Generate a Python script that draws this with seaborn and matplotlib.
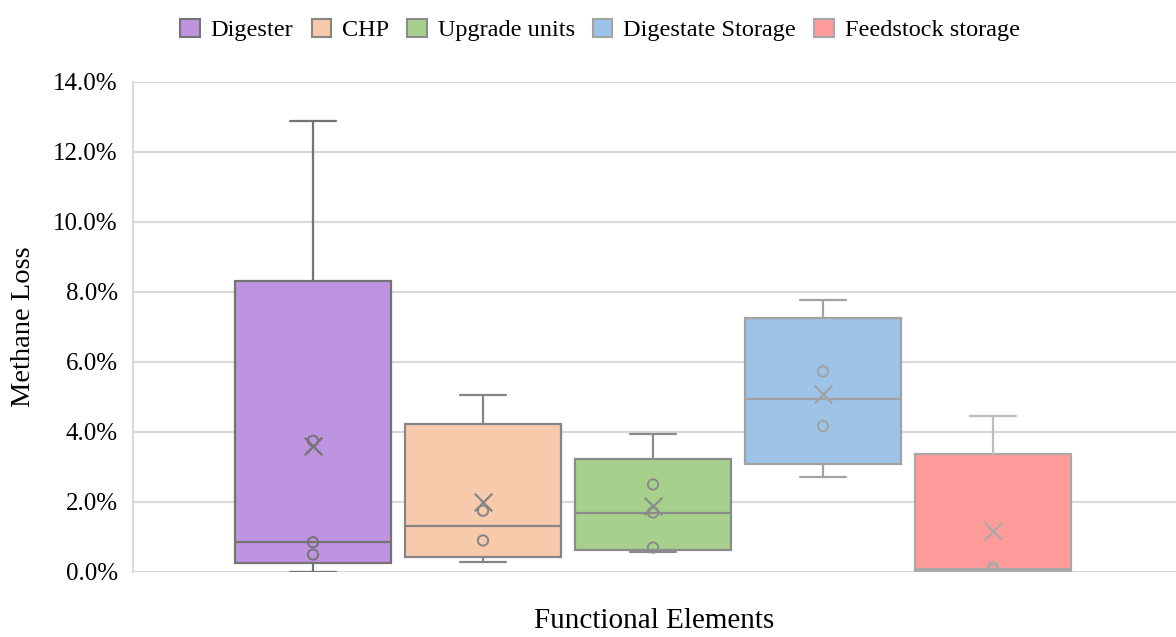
import numpy as np
import pandas as pd
import matplotlib
matplotlib.use("Agg")
import matplotlib.pyplot as plt
import seaborn as sns
from matplotlib.patches import Patch
from matplotlib.ticker import FuncFormatter

# ---------------- data (methane loss, %) ----------------
categories = ["Digester", "CHP", "Upgrade units", "Digestate Storage", "Feedstock storage"]
digester = [0.0, 0.5, 0.85, 3.75, 12.9]
chp = [0.28, 0.9, 1.75, 5.05]
upgrade_units = [0.58, 0.7, 1.7, 2.5, 3.95]
digestate_storage = [2.72, 4.17, 5.73, 7.77]
feedstock_storage = [0.0, 0.06, 0.13, 4.45]
y_ticks = [0, 2, 4, 6, 8, 10, 12, 14]

series = [digester, chp, upgrade_units, digestate_storage, feedstock_storage]

fill_colors = ["#BE93DF", "#F8CAAC", "#A8D08D", "#9DC3E6", "#FF9B9A"]
edge_colors = ["#747474", "#858585", "#8B8B8B", "#A2A2A2", "#A8A8A8"]
upper_whisker_colors = ["#747474", "#858585", "#8B8B8B", "#A2A2A2", "#BDBDBD"]

df = pd.DataFrame(
    [(cat, i, v) for i, (cat, vals) in enumerate(zip(categories, series)) for v in vals],
    columns=["element", "pos", "value"],
)

# ---------------- styling ----------------
sns.set_theme(style="white")
plt.rcParams["font.family"] = ["Liberation Serif", "DejaVu Serif"]
plt.rcParams["text.color"] = "#000000"
plt.rcParams["axes.labelcolor"] = "#000000"

fig = plt.figure(figsize=(11.76, 6.37), dpi=100)
ax = fig.add_axes([133 / 1176, 1 - 572 / 637, 1 - 133 / 1176, (572 - 82) / 637])

# exclusive-quartile (Excel style) box statistics computed from the data
stats = []
for cat, grp in df.groupby("element", sort=False):
    v = grp["value"].to_numpy()
    q1, med, q3 = np.percentile(v, [25, 50, 75], method="weibull")
    stats.append(dict(label=cat, q1=q1, med=med, q3=q3,
                      whislo=v.min(), whishi=v.max(), mean=v.mean(), fliers=[]))

positions = list(range(len(categories)))
art = ax.bxp(stats, positions=positions, widths=0.918, patch_artist=True,
             showfliers=False, showmeans=False, manage_ticks=False,
             capwidths=0.265, zorder=3)

for i in range(len(categories)):
    box = art["boxes"][i]
    box.set_facecolor(fill_colors[i])
    box.set_edgecolor(edge_colors[i])
    box.set_linewidth(1.6)
    art["medians"][i].set_color(edge_colors[i])
    art["medians"][i].set_linewidth(1.6)
    for j, wc in enumerate([edge_colors[i], upper_whisker_colors[i]]):
        art["whiskers"][2 * i + j].set_color(wc)
        art["whiskers"][2 * i + j].set_linewidth(1.6)
        art["caps"][2 * i + j].set_color(wc)
        art["caps"][2 * i + j].set_linewidth(1.6)

# inner points (excluding whisker ends) and mean markers
for i, (cat, grp) in enumerate(df.groupby("element", sort=False)):
    v = grp["value"]
    inner = grp[(v > v.min()) & (v < v.max())]
    sns.scatterplot(data=inner, x="pos", y="value", marker="o", s=55,
                    facecolor="none", edgecolor=edge_colors[i], linewidth=1.4,
                    ax=ax, zorder=4, legend=False)
    mean_df = pd.DataFrame({"pos": [i], "value": [v.mean()]})
    sns.scatterplot(data=mean_df, x="pos", y="value", marker="x", s=160,
                    color=edge_colors[i], linewidth=1.6, ax=ax, zorder=4,
                    legend=False)

# axes
ax.set_xlim(-180 / 170, (1176 - 313) / 170)
ax.set_ylim(0, 14)
ax.set_yticks(y_ticks)
ax.yaxis.set_major_formatter(FuncFormatter(lambda y, _: f"{y:.1f}%"))
ax.set_xticks([])
ax.grid(axis="y", color="#D9D9D9", linewidth=1.5, zorder=0)
ax.set_axisbelow(True)
for s in ["top", "right", "bottom"]:
    ax.spines[s].set_visible(False)
ax.spines["left"].set_color("#D9D9D9")
ax.spines["left"].set_linewidth(1.5)
ax.tick_params(axis="y", labelsize=18, length=0, pad=11, colors="#000000")
ax.set_ylabel("Methane Loss", fontsize=20.5, labelpad=12, color="#000000")
ax.set_xlabel("Functional Elements", fontsize=21, labelpad=26, color="#000000")

handles = [Patch(facecolor=fc, edgecolor=ec, linewidth=1.5)
           for fc, ec in zip(fill_colors, edge_colors)]
fig.legend(handles, categories, loc="upper center", bbox_to_anchor=(600 / 1176, 1.005),
           ncol=5, frameon=False, fontsize=17.5, handlelength=0.8, handleheight=0.8,
           handletextpad=0.45, columnspacing=0.75)

fig.savefig("out.png", dpi=100)
